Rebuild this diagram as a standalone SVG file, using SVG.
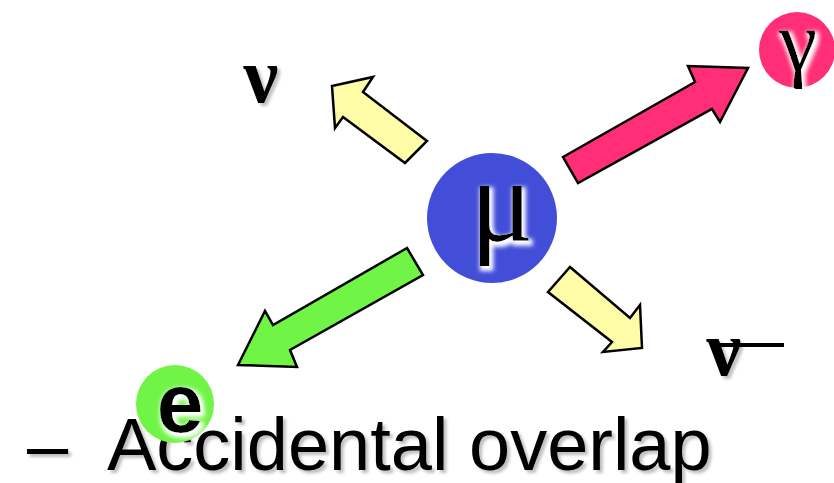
<svg xmlns="http://www.w3.org/2000/svg" width="834" height="483" viewBox="0 0 834 483">
<style>
.arrow{stroke:#000;stroke-width:2.5;stroke-linejoin:miter}
.greek{font-family:"Liberation Serif","DejaVu Serif",serif;fill:#000}
.heavy{font-weight:bold}
.label{font-family:"Liberation Sans",Arial,sans-serif;fill:#000}
</style>
<defs>
<filter id="glow" x="-30%" y="-30%" width="160%" height="160%">
<feMorphology in="SourceAlpha" operator="dilate" radius="1.5" result="d"/>
<feGaussianBlur in="d" stdDeviation="2" result="b"/>
<feFlood flood-color="#fff"/>
<feComposite in2="b" operator="in" result="w"/>
<feOffset in="w" dx="2" dy="3" result="wo"/>
<feMerge><feMergeNode in="wo"/><feMergeNode in="SourceGraphic"/></feMerge>
</filter>
<filter id="shadow" x="-10%" y="-10%" width="120%" height="130%">
<feGaussianBlur in="SourceAlpha" stdDeviation="1.5"/>
<feOffset dx="3" dy="3" result="o"/>
<feFlood flood-color="#000" flood-opacity="0.25"/>
<feComposite in2="o" operator="in" result="s"/>
<feMerge><feMergeNode in="s"/><feMergeNode in="SourceGraphic"/></feMerge>
</filter>
</defs>
<rect width="834" height="483" fill="#fff"/>
<g id="connectors">
<polygon class="arrow" fill="#FF2E77" points="563,157 695,82 688,66 748,68 720,122 712,109 578,183"/>
<polygon class="arrow" fill="#FFFCA8" points="427,141 363,92 373,77 332,86 335,128 343,117 405,163"/>
<polygon class="arrow" fill="#FFFCA8" points="570,267 630,318 640,305 642,348 603,352 612,342 548,292"/>
<polygon class="arrow" fill="#70F547" points="407,248 273,325 265,311 238,365 297,367 290,350 423,275"/>
</g>
<g id="mu">
<circle cx="492" cy="218" r="65" fill="#434ED8"/>
<text class="greek" x="502" y="241" font-size="118" text-anchor="middle" filter="url(#glow)">μ</text>
</g>
<g id="gamma">
<circle cx="797" cy="50" r="38" fill="#FF2E77"/>
<text class="greek" x="798" y="70" font-size="86" text-anchor="middle" filter="url(#glow)">γ</text>
</g>
<g id="nu">
<text class="greek heavy" x="261" y="102" font-size="78" text-anchor="middle" filter="url(#shadow)">ν</text>
</g>
<g id="nubar">
<text class="greek heavy" x="724" y="375" font-size="78" text-anchor="middle" filter="url(#shadow)">ν</text>
<rect x="720" y="343" width="64" height="4" fill="#000"/>
</g>
<g id="label">
<text class="label" x="27" y="470" font-size="74" filter="url(#shadow)">–</text>
<text class="label" x="107" y="470" font-size="74" filter="url(#shadow)">Accidental overlap</text>
</g>
<g id="electron">
<circle cx="175" cy="404" r="39" fill="#70F547"/>
<text class="label" x="180" y="432" font-size="84" font-weight="bold" text-anchor="middle" filter="url(#glow)">e</text>
</g>
</svg>
